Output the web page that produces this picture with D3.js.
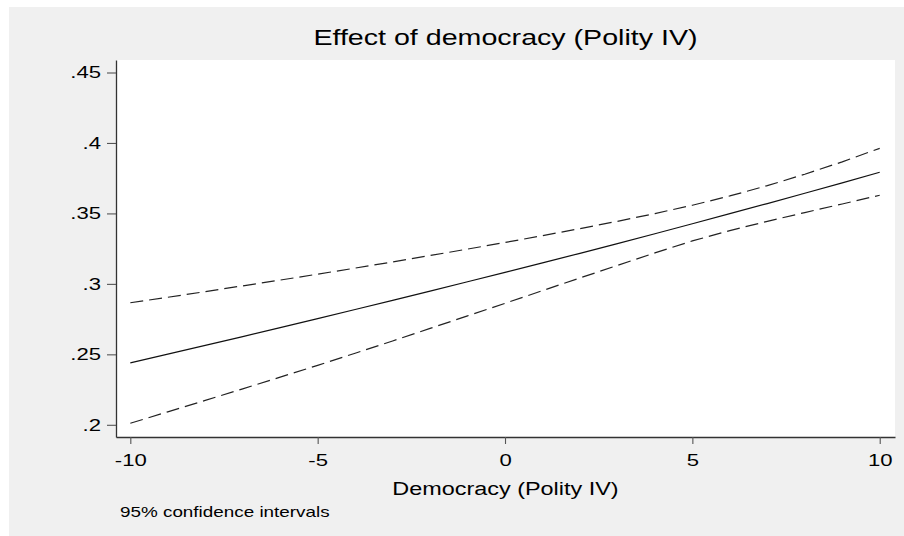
<!DOCTYPE html>
<html>
<head>
<meta charset="utf-8">
<script src="https://cdn.jsdelivr.net/npm/d3@7"></script>
<style>
  html, body { margin: 0; padding: 0; background: #ffffff; }
  svg { display: block; }
  text { font-family: "Liberation Sans", Arial, Helvetica, sans-serif; fill: #000; }
</style>
</head>
<body>
<svg id="chart" width="904" height="536"></svg>
<script>
// Democracy score (Polity IV), evaluated at each integer
const polity = [-10, -9, -8, -7, -6, -5, -4, -3, -2, -1, 0, 1, 2, 3, 4, 5, 6, 7, 8, 9, 10];

// Predicted effect and 95% confidence bounds
const estimate = [0.2440, 0.2501, 0.2563, 0.2626, 0.2689, 0.2753, 0.2818, 0.2883, 0.2949, 0.3015, 0.3082,
                  0.3149, 0.3217, 0.3286, 0.3356, 0.3427, 0.3498, 0.3570, 0.3643, 0.3717, 0.3792];
const upperCI  = [0.2866, 0.2905, 0.2945, 0.2986, 0.3027, 0.3069, 0.3112, 0.3156, 0.3201, 0.3247, 0.3294,
                  0.3342, 0.3392, 0.3444, 0.3499, 0.3558, 0.3624, 0.3697, 0.3778, 0.3866, 0.3962];
const lowerCI  = [0.2011, 0.2092, 0.2173, 0.2255, 0.2338, 0.2422, 0.2508, 0.2595, 0.2684, 0.2773, 0.2862,
                  0.2952, 0.3042, 0.3131, 0.3220, 0.3305, 0.3378, 0.3444, 0.3506, 0.3567, 0.3629];

const xTicks = [-10, -5, 0, 5, 10];
const yTicks = [0.2, 0.25, 0.3, 0.35, 0.4, 0.45];

const titleText = "Effect of democracy (Polity IV)";
const xLabel = "Democracy (Polity IV)";
const noteText = "95% confidence intervals";

// Graph text is rendered wide, as in the exported graph
const textStretch = 1.3;

const svg = d3.select("#chart");

// Outer graph region and inner plot region
const plot = { left: 116, top: 60, right: 895, bottom: 437 };

svg.append("rect")
  .attr("x", 9).attr("y", 7)
  .attr("width", 904 - 9).attr("height", 536 - 7)
  .attr("fill", "#f0f0f0");

svg.append("rect")
  .attr("x", plot.left).attr("y", plot.top)
  .attr("width", plot.right - plot.left).attr("height", plot.bottom - plot.top)
  .attr("fill", "#ffffff");

const x = d3.scaleLinear().domain([-10.382, 10.408]).range([plot.left, plot.right]);
const y = d3.scaleLinear().domain([0.19134, 0.45887]).range([plot.bottom, plot.top]);

const fmtY = v => d3.format(".2~f")(v).replace(/^0\./, ".");

// Y axis
const yAxis = svg.append("g")
  .attr("transform", `translate(${plot.left},0)`)
  .call(d3.axisLeft(y).tickValues(yTicks).tickFormat(fmtY).tickSize(9).tickSizeOuter(0).tickPadding(6));

// X axis
const xAxis = svg.append("g")
  .attr("transform", `translate(0,${plot.bottom})`)
  .call(d3.axisBottom(x).tickValues(xTicks).tickFormat(d3.format("d")).tickSize(7).tickSizeOuter(0).tickPadding(10));

[yAxis, xAxis].forEach(g => {
  g.select(".domain").attr("stroke", "#333").attr("stroke-width", 1.3);
  g.selectAll(".tick line").attr("stroke", "#555").attr("stroke-width", 1.1);
  g.selectAll(".tick text")
    .attr("font-family", "\"Liberation Sans\", Arial, sans-serif")
    .attr("font-size", 17)
    .attr("fill", "#000");
});
xAxis.selectAll(".tick text").text(d => d < 0 ? "-" + Math.abs(d) : d);

// Lines
const pts = arr => polity.map((p, i) => [p, arr[i]]);
const line = d3.line().x(d => x(d[0])).y(d => y(d[1]));

svg.append("path")
  .attr("d", line(pts(upperCI)))
  .attr("fill", "none").attr("stroke", "#222").attr("stroke-width", 1.2)
  .attr("stroke-dasharray", "13,6");

svg.append("path")
  .attr("d", line(pts(lowerCI)))
  .attr("fill", "none").attr("stroke", "#222").attr("stroke-width", 1.2)
  .attr("stroke-dasharray", "13,6");

svg.append("path")
  .attr("d", line(pts(estimate)))
  .attr("fill", "none").attr("stroke", "#111").attr("stroke-width", 1.2);

// Titles and note
svg.append("text")
  .attr("x", (plot.left + plot.right) / 2).attr("y", 45)
  .attr("text-anchor", "middle").attr("font-size", 22)
  .text(titleText);

svg.append("text")
  .attr("x", (plot.left + plot.right) / 2).attr("y", 495)
  .attr("text-anchor", "middle").attr("font-size", 18)
  .text(xLabel);

svg.append("text")
  .attr("x", 120).attr("y", 517)
  .attr("font-size", 14.5)
  .text(noteText);

// Widen every label horizontally
svg.selectAll("text").each(function () {
  const w = this.getComputedTextLength();
  d3.select(this)
    .attr("textLength", w * textStretch)
    .attr("lengthAdjust", "spacingAndGlyphs");
});
</script>
</body>
</html>
